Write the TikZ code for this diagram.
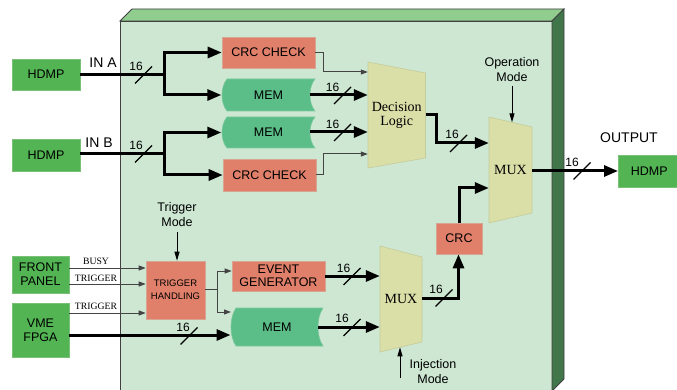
\documentclass[tikz,border=0pt]{standalone}
\usepackage{fontspec}
\setmainfont{Liberation Sans}
\newfontfamily\seriffont{Liberation Serif}
\usetikzlibrary{arrows.meta,calc}
\definecolor{facefront}{HTML}{CDE7D3}
\definecolor{facetop}{HTML}{91CD8F}
\definecolor{faceside}{HTML}{41764B}
\definecolor{hdmpgreen}{HTML}{52B452}
\definecolor{hdmpedge}{HTML}{79C079}
\definecolor{memgreen}{HTML}{5BBD87}
\definecolor{crcred}{HTML}{E0806A}
\definecolor{crcedge}{HTML}{D9A593}
\definecolor{trapfill}{HTML}{D9DFA7}
\definecolor{trapedge}{HTML}{C5CC9A}
\definecolor{thingray}{HTML}{444444}
\tikzset{
  greenbox/.style={rectangle,fill=hdmpgreen,draw=hdmpedge,line width=0.6pt,inner sep=0pt,font=\fontsize{12.5}{14}\selectfont,align=center},
  redbox/.style={rectangle,fill=crcred,draw=crcedge,line width=0.6pt,inner sep=0pt,font=\fontsize{12.5}{14}\selectfont,align=center},
  memtext/.style={rectangle,inner sep=0pt,font=\fontsize{12.5}{14}\selectfont},
  traptext/.style={rectangle,inner sep=0pt,font=\seriffont\fontsize{14}{16}\selectfont,align=center},
  bus/.style={line width=3pt,black},
  busarrow/.style={bus,-{Triangle[length=14pt,width=11pt]}},
  thinarrow/.style={line width=1pt,thingray,-{Triangle[length=7pt,width=5pt]}},
  thinline/.style={line width=1pt,thingray},
  modearrow/.style={line width=1pt,black,-{Triangle[length=9pt,width=5pt]}},
  slash/.style={line width=1.4pt,black},
  numlab/.style={inner sep=0pt,font=\fontsize{12}{14}\selectfont},
  biglab/.style={inner sep=0pt,font=\fontsize{14}{16}\selectfont},
  modelab/.style={inner sep=0pt,font=\fontsize{12.5}{15}\selectfont,align=center},
  siglab/.style={inner sep=0pt,font=\seriffont\fontsize{9.7}{11}\selectfont},
}
\newcommand\memnode[5]{%
  \pgfmathsetmacro\mxa{#2-#4/2}\pgfmathsetmacro\mxb{#2+#4/2}%
  \pgfmathsetmacro\mya{#3-#5/2}\pgfmathsetmacro\myb{#3+#5/2}%
  \pgfmathsetmacro\myq{#3-#5/4}\pgfmathsetmacro\myr{#3+#5/4}%
  \filldraw[fill=memgreen,draw=memgreen!80!white,line width=0.6pt] (\mxa+5,\mya) -- (\mxb,\mya)
    .. controls (\mxb-6.7,\myq) and (\mxb-6.7,\myr) .. (\mxb,\myb) -- (\mxa+5,\myb)
    .. controls (\mxa-1.7,\myr) and (\mxa-1.7,\myq) .. (\mxa+5,\mya) -- cycle;
  \node[memtext,minimum width=#4,minimum height=#5] (#1) at (#2,#3) {MEM};}
% name, x0, x1, yTL, yBL, yTR, yBR, text
\newcommand\trapnode[8]{%
  \filldraw[fill=trapfill,draw=trapedge,line width=0.6pt] (#2,#4) -- (#3,#6) -- (#3,#7) -- (#2,#5) -- cycle;
  \pgfmathsetmacro\tcx{(#2+#3)/2}\pgfmathsetmacro\tcy{(#4+#5)/2}%
  \pgfmathsetmacro\tw{#3-#2}\pgfmathsetmacro\th{#5-#4}%
  \node[traptext,minimum width=\tw,minimum height=\th] (#1) at (\tcx,\tcy) {#8};}
\newcommand\busmark[5]{% slash x, y, label x, label y
  \draw[slash] (#1-8.5,#2+8.5) -- (#1+8.5,#2-8.5);
  \node[numlab] (#5) at (#3,#4) {16};}
\begin{document}
\begin{tikzpicture}[x=1pt,y=-1pt]
\useasboundingbox (0,0) rectangle (677,390);
% FPGA block
\filldraw[fill=facefront,draw=black!75,line width=0.8pt] (120,21) rectangle (552,400);
\filldraw[fill=facetop,draw=black!75,line width=0.8pt] (120,21) -- (132,9) -- (564,9) -- (552,21) -- cycle;
\filldraw[fill=faceside,draw=black!75,line width=0.8pt] (552,21) -- (564,9) -- (564,379) -- (552,391) -- cycle;

% outer boxes
\node[greenbox,minimum width=68,minimum height=31] (hdmpA) at (46,74.5) {HDMP};
\node[greenbox,minimum width=68,minimum height=32] (hdmpB) at (46,155) {HDMP};
\node[greenbox,minimum width=57,minimum height=37] (fp) at (40.5,274.5) {FRONT\\PANEL};
\node[greenbox,minimum width=57,minimum height=54] (vme) at (40.5,330) {VME\\FPGA};
\node[greenbox,minimum width=72,minimum height=32,anchor=west] (hdmpO) at (618,171) {\hspace*{-10pt}HDMP};

% inner boxes
\node[redbox,minimum width=93,minimum height=31] (crcA) at (268.5,52.5) {CRC CHECK};
\memnode{memA}{268.5}{95}{93}{32}
\memnode{memB}{268.5}{132.5}{93}{31}
\node[redbox,minimum width=93,minimum height=32] (crcB) at (269.5,175) {CRC CHECK};
\trapnode{dl}{368}{425.5}{62}{168}{73}{158}{Decision\\[-2pt]Logic}
\trapnode{muxA}{489}{532}{117}{223}{127}{213}{MUX}
\node[redbox,minimum width=46,minimum height=31] (crc) at (459,238.5) {CRC};
\trapnode{muxB}{380}{422}{246}{352}{257}{342}{MUX}
\node[redbox,minimum width=59,minimum height=58,font=\fontsize{9.5}{13}\selectfont] (trig) at (175.5,290) {TRIGGER\\HANDLING};
\node[redbox,minimum width=93,minimum height=30,font=\fontsize{12.5}{13.5}\selectfont] (evg) at (278.5,276) {EVENT\\GENERATOR};
\memnode{memC}{277}{327}{92}{38}

% bend coordinates
\coordinate (brA) at (164,75);
\coordinate (brB) at (164,154);
\coordinate (bDL) at (436.5,115);
\coordinate (bCRC) at (459,188);
\coordinate (bMB) at (458.5,298);
\coordinate (bTR) at (217,289);

% IN A / IN B buses
\draw[bus] (hdmpA.east |- brA) -- (brA);
\draw[busarrow] (brA) |- (crcA.west);
\draw[busarrow] (brA) |- ([xshift=-0.5pt]memA.west);
\draw[bus] (hdmpB.east |- brB) -- (brB);
\draw[busarrow] (brB) |- ([xshift=-0.5pt]memB.west);
\draw[busarrow] (brB) |- (crcB.west);
\node[biglab] (inA) at (103,63) {IN A};
\node[biglab] (inB) at (99,143) {IN B};
\busmark{143.5}{75}{136}{66}{nA}
\busmark{143.5}{154}{136}{145.5}{nB}

% CRC check outputs
\draw[thinarrow] (crcA.east) -- (323,52.5) -- (323,72) -- (dl.west |- 0,72);
\draw[thinarrow] (crcB.east) -- (323.5,175) -- (323.5,154) -- (dl.west |- 0,154);
% MEM outputs to decision logic
\draw[busarrow] ([xshift=-5pt]memA.east) -- (dl.west |- memA.east);
\draw[busarrow] ([xshift=-5pt]memB.east |- 0,132) -- (dl.west |- 0,132);
\busmark{342.5}{95.5}{332.5}{87}{nMA}
\busmark{342.5}{132.5}{332.5}{124}{nMB}

% decision logic -> MUX A
\draw[busarrow] (dl.east |- bDL) -- (bDL) |- (muxA.west |- 0,143);
\busmark{458.5}{143.5}{452}{134}{nDL}
% CRC -> MUX A
\draw[busarrow] (crc.north) -- (bCRC) -- (muxA.west |- bCRC);
% MUX A -> output
\draw[busarrow] (muxA.east |- 0,171) -- (hdmpO.west);
\busmark{582}{171}{572}{162}{nO}
\node[biglab] (outlab) at (629,138) {OUTPUT};
% operation mode
\node[modelab] (opmode) at (512,70) {Operation\\Mode};
\draw[modearrow] (opmode.south |- 0,86) -- (512,122.3);

% trigger mode
\node[modelab] (trmode) at (177,215) {Trigger\\Mode};
\draw[modearrow] (trmode.south |- 0,232) -- (trig.north -| trmode.south);

% front panel / VME signals
\draw[thinarrow] (fp.east |- 0,268) -- (trig.west |- 0,268);
\draw[thinarrow] (fp.east |- 0,284) -- (trig.west |- 0,284);
\draw[thinarrow] (vme.east |- 0,313) -- (trig.west |- 0,313);
\node[siglab] (sBusy) at (96,261) {BUSY};
\node[siglab] (sTrg1) at (96,278.5) {TRIGGER};
\node[siglab] (sTrg2) at (96,306.5) {TRIGGER};
\draw[busarrow] (vme.east |- 0,335) -- (230.5,335);
\busmark{189}{336}{183}{327}{nV}

% trigger handling outputs
\draw[thinline] (trig.east |- bTR) -- (bTR);
\draw[thinarrow] (bTR) |- (evg.west |- 0,271);
\draw[thinarrow] (bTR) |- (231,312);

% to MUX B
\draw[busarrow] (evg.east |- 0,276) -- (muxB.west |- 0,276);
\busmark{352}{276.5}{343.5}{268}{nE}
\draw[busarrow] ([xshift=-5pt]memC.east) -- (muxB.west |- memC.east);
\busmark{352}{327.5}{342}{318}{nM}
% MUX B -> CRC
\draw[busarrow] (muxB.east |- bMB) -- (bMB) -- (crc.south -| bMB);
\busmark{444}{298}{436}{289}{nMX}
% injection mode
\node[modelab] (injmode) at (433,372) {Injection\\Mode};
\draw[modearrow] (400,378) -- (400,347.3);
\end{tikzpicture}
\end{document}
